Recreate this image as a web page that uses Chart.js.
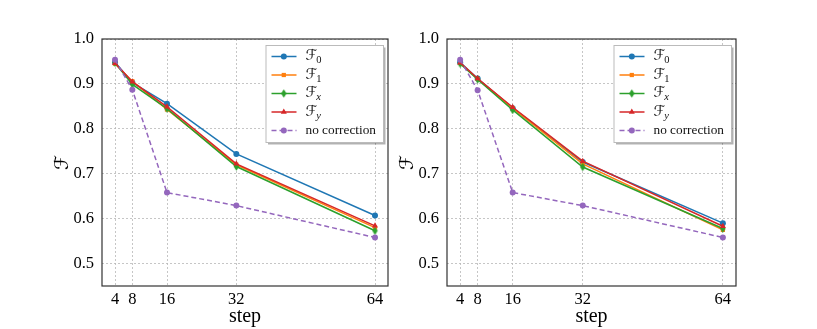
<!DOCTYPE html>
<html>
<head>
<meta charset="utf-8">
<script src="https://cdn.jsdelivr.net/npm/chart.js@4"></script>
<style>
    body { margin: 0; background: #fff; }
    #wrap { position: relative; width: 817px; height: 329px; }
    canvas { position: absolute; top: 0; }
</style>
</head>
<body>
<div id="wrap">
    <canvas id="leftChart" width="392" height="329" style="left:0"></canvas>
    <canvas id="rightChart" width="425" height="329" style="left:392px"></canvas>
</div>
<script>
// === DATA ===
const steps = [4, 8, 16, 32, 64];
const xTicks = [4, 8, 16, 32, 64];
const yTicks = [0.5, 0.6, 0.7, 0.8, 0.9, 1.0];

// left panel
const f0Left = [0.948, 0.903, 0.856, 0.744, 0.607];
const f1Left = [0.945, 0.906, 0.843, 0.720, 0.580];
const fxLeft = [0.947, 0.899, 0.845, 0.716, 0.573];
const fyLeft = [0.946, 0.905, 0.849, 0.722, 0.584];
const ncLeft = [0.954, 0.887, 0.658, 0.629, 0.558];

// right panel
const f0Right = [0.948, 0.912, 0.846, 0.726, 0.590];
const f1Right = [0.947, 0.911, 0.846, 0.722, 0.575];
const fxRight = [0.945, 0.910, 0.842, 0.715, 0.578];
const fyRight = [0.947, 0.912, 0.848, 0.728, 0.583];
const ncRight = [0.954, 0.886, 0.658, 0.629, 0.558];

const seriesNames = [
    { main: 'ℱ', sub: '0' },
    { main: 'ℱ', sub: '1' },
    { main: 'ℱ', sub: 'x' },
    { main: 'ℱ', sub: 'y' },
    { main: 'no correction', sub: '' }
];

const FONT = "'Liberation Serif', 'DejaVu Serif', serif";
const SCRIPT_FONT = "'DejaVu Serif', 'DejaVu Sans', serif";

// thin diamond marker (matplotlib 'd')
function thinDiamond(color) {
    const c = document.createElement('canvas');
    c.width = 7; c.height = 9;
    const g = c.getContext('2d');
    g.fillStyle = color;
    g.beginPath();
    g.moveTo(3.5, 0.3);
    g.lineTo(6.2, 4.5);
    g.lineTo(3.5, 8.7);
    g.lineTo(0.8, 4.5);
    g.closePath();
    g.fill();
    return c;
}

const styles = [
    { color: '#1f77b4', pointStyle: 'circle', radius: 3, dash: [] },
    { color: '#ff7f0e', pointStyle: 'rect', radius: 3, dash: [] },
    { color: '#2ca02c', pointStyle: thinDiamond('#2ca02c'), radius: 4, dash: [] },
    { color: '#d62728', pointStyle: 'triangle', radius: 3.5, dash: [] },
    { color: '#9467bd', pointStyle: 'circle', radius: 3, dash: [5, 3] }
];

// Draw full axes box
const framePlugin = {
    id: 'frame',
    afterDatasetsDraw(chart) {
        const { ctx, chartArea: a } = chart;
        ctx.save();
        ctx.strokeStyle = '#333';
        ctx.lineWidth = 1.2;
        ctx.strokeRect(a.left, a.top, a.right - a.left, a.bottom - a.top);
        ctx.restore();
    }
};

// Legend with subscripts and shadow
const legendPlugin = {
    id: 'texLegend',
    afterDraw(chart) {
        const { ctx, chartArea: a } = chart;
        const x0 = a.right - 122.5, y0 = a.top + 6, w = 117.5, h = 97;
        ctx.save();
        ctx.fillStyle = 'rgba(0,0,0,0.3)';
        ctx.fillRect(x0 + 2.5, y0 + 2.5, w, h);
        ctx.fillStyle = '#fff';
        ctx.fillRect(x0, y0, w, h);
        ctx.strokeStyle = '#bbb';
        ctx.lineWidth = 1;
        ctx.strokeRect(x0 + 0.5, y0 + 0.5, w, h);

        seriesNames.forEach((name, i) => {
            const st = styles[i];
            const y = y0 + 11.5 + i * 18.5;
            ctx.strokeStyle = st.color;
            ctx.lineWidth = 1.5;
            ctx.setLineDash(st.dash);
            ctx.beginPath();
            ctx.moveTo(x0 + 6, y);
            ctx.lineTo(x0 + 31, y);
            ctx.stroke();
            ctx.setLineDash([]);
            ctx.fillStyle = st.color;
            Chart.helpers.drawPoint(ctx, {
                pointStyle: st.pointStyle, radius: st.radius, rotation: 0, borderWidth: 0
            }, x0 + 18.3, y);

            ctx.fillStyle = '#111';
            ctx.textBaseline = 'middle';
            ctx.textAlign = 'left';
            if (name.sub) {
                ctx.font = `15px ${SCRIPT_FONT}`;
                ctx.fillText(name.main, x0 + 40, y);
                const mw = ctx.measureText(name.main).width;
                ctx.font = (/[a-z]/.test(name.sub) ? 'italic ' : '') + `10.5px ${FONT}`;
                ctx.fillText(name.sub, x0 + 40 + mw - 1, y + 4);
            } else {
                ctx.font = `13.3px ${FONT}`;
                ctx.fillText(name.main, x0 + 40, y);
            }
        });
        ctx.restore();
    }
};

function makeChart(canvasId, series, padding) {
    const datasets = series.map((vals, i) => ({
        label: seriesNames[i].main + seriesNames[i].sub,
        data: steps.map((s, j) => ({ x: s, y: vals[j] })),
        borderColor: styles[i].color,
        backgroundColor: styles[i].color,
        borderWidth: 1.5,
        borderDash: styles[i].dash,
        pointStyle: styles[i].pointStyle,
        pointRadius: styles[i].radius,
        pointBorderWidth: 0,
        order: 5 - i,
        tension: 0
    }));

    return new Chart(document.getElementById(canvasId), {
        type: 'line',
        data: { datasets },
        options: {
            responsive: false,
            animation: false,
            devicePixelRatio: 1,
            layout: { padding },
            plugins: { legend: { display: false }, tooltip: { enabled: false } },
            scales: {
                x: {
                    type: 'linear',
                    min: 1, max: 67,
                    afterBuildTicks: s => { s.ticks = xTicks.map(v => ({ value: v })); },
                    afterFit: s => { s.height = 43; },
                    grid: { color: '#b8b8b8', lineWidth: 0.8, drawTicks: false },
                    border: { display: false, dash: [2, 2] },
                    ticks: {
                        color: '#000', padding: 4, maxRotation: 0,
                        font: { family: FONT, size: 16.5 },
                        callback: v => String(v)
                    },
                    title: {
                        display: true, text: 'step', color: '#000',
                        font: { family: FONT, size: 20 },
                        padding: { top: 0, bottom: 0 }
                    }
                },
                y: {
                    min: 0.45, max: 1.0,
                    afterBuildTicks: s => { s.ticks = yTicks.map(v => ({ value: v })); },
                    afterFit: s => { s.width = 55; },
                    grid: { color: '#b8b8b8', lineWidth: 0.8, drawTicks: false },
                    border: { display: false, dash: [2, 2] },
                    ticks: {
                        color: '#000', padding: 8,
                        font: { family: FONT, size: 16.5 },
                        callback: v => v.toFixed(1)
                    },
                    title: {
                        display: true, text: 'ℱ', color: '#000',
                        font: { family: SCRIPT_FONT, size: 19 },
                        padding: { top: 5, bottom: 0 }
                    }
                }
            }
        },
        plugins: [framePlugin, legendPlugin]
    });
}

makeChart('leftChart', [f0Left, f1Left, fxLeft, fyLeft, ncLeft],
    { left: 47, right: 2, top: 39, bottom: 0 });
makeChart('rightChart', [f0Right, f1Right, fxRight, fyRight, ncRight],
    { left: 0, right: 81, top: 39, bottom: 0 });
</script>
</body>
</html>
